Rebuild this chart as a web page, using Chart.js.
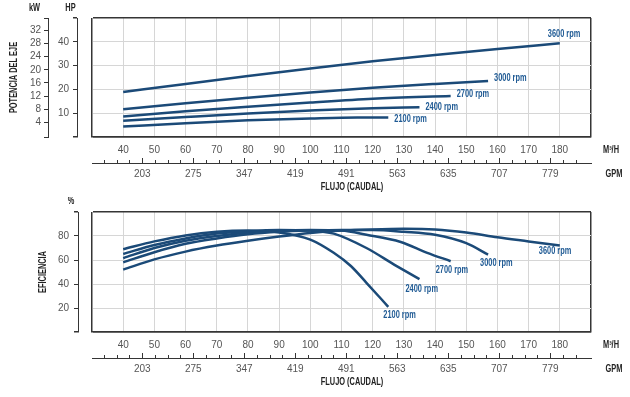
<!DOCTYPE html>
<html lang="es">
<head>
<meta charset="UTF-8">
<title>Curvas de potencia y eficiencia</title>
<script src="https://cdn.jsdelivr.net/npm/chart.js"></script>
<style>
  body { margin: 0; background: #fff; }
  #wrap { position: relative; width: 630px; height: 397px; }
  canvas { position: absolute; left: 0; }
</style>
</head>
<body>
<div id="wrap">
  <canvas id="powerChart" width="630" height="197" style="top:0"></canvas>
  <canvas id="effChart" width="630" height="200" style="top:197px"></canvas>
</div>
<script>
// ---- data ----
const rpmLabels = ['3600 rpm', '3000 rpm', '2700 rpm', '2400 rpm', '2100 rpm'];
const flowTicks = [40, 50, 60, 70, 80, 90, 100, 110, 120, 130, 140, 150, 160, 170, 180];
const gpmTicks = [203, 275, 347, 419, 491, 563, 635, 707, 779];
const kwTicks = [4, 8, 12, 16, 20, 24, 28, 32];
const hpTicks = [10, 20, 30, 40];
const effTicks = [20, 40, 60, 80];

// shaft power (HP) vs flow (m3/h)
const hpFlow3600 = [40, 60, 80, 100, 120, 140, 160, 180];
const hp3600 = [18.9, 22.3, 25.6, 28.8, 31.8, 34.5, 37.0, 39.4];
const hpFlow3000 = [40, 60, 80, 100, 120, 140, 157];
const hp3000 = [11.7, 14.2, 16.5, 18.7, 20.7, 22.3, 23.5];
const hpFlow2700 = [40, 60, 80, 100, 120, 145];
const hp2700 = [8.6, 10.8, 12.7, 14.5, 16.1, 17.2];
const hpFlow2400 = [40, 60, 80, 100, 120, 135];
const hp2400 = [6.8, 8.4, 9.9, 11.1, 12.1, 12.5];
const hpFlow2100 = [40, 60, 80, 100, 115, 125];
const hp2100 = [4.4, 5.8, 7.0, 7.8, 8.2, 8.2];

// efficiency (%) vs flow (m3/h)
const effFlow3600 = [40, 50, 60, 70, 80, 90, 100, 110, 120, 130, 140, 150, 160, 170, 180];
const eff3600 = [52, 60.5, 67, 72, 76, 79.5, 82.5, 84.5, 85.5, 86, 85.5, 83, 79, 75.5, 72];
const effFlow3000 = [40, 50, 60, 70, 80, 90, 100, 110, 120, 130, 140, 150, 157];
const eff3000 = [58, 66.5, 73.5, 78, 81.5, 83.5, 84.5, 85, 85, 83.5, 81, 74, 64.5];
const effFlow2700 = [40, 50, 60, 70, 80, 90, 100, 110, 118, 129, 137.5, 145];
const eff2700 = [61.5, 70, 76, 80, 83, 84.5, 85, 84.5, 81, 75, 66, 59];
const effFlow2400 = [40, 50, 60, 70, 80, 90, 100, 107.5, 118, 127, 135];
const eff2400 = [65, 72.5, 78, 82, 84, 85, 84.5, 82, 70, 56, 44];
const effFlow2100 = [40, 50, 60, 70, 80, 90, 100, 107.5, 113, 118, 125];
const eff2100 = [69, 75.5, 80.5, 83.5, 84.5, 83, 77, 66, 55, 41, 21];

// ---- styling ----
const FONT = "'Liberation Sans', Roboto, sans-serif";
const DARK = '#353535';
const GRID = '#d6d6d6';
const LINE = '#1b4a78';
const LABEL = '#1f5a94';
const SQUEEZE = 0.74; // fake condensed face for hand-drawn texts
const GPM_PER_M3H = 4.403;

Chart.defaults.font.family = FONT;
Chart.defaults.font.size = 10;
Chart.defaults.color = '#555';

const topLabelOffsets = [[-12, -9], [6, -3], [6, -2], [6, 0], [6, 2]];
const effLabelOffsets = [[-21, 6], [-8, 9], [-15, 9], [-14, 10], [-5, 8]];

function pts(xs, ys) {
  return xs.map((x, i) => ({ x: x, y: ys[i] }));
}

function curves(sets) {
  return sets.map((s, i) => ({
    label: rpmLabels[i],
    data: pts(s[0], s[1]),
    borderColor: LINE,
    borderWidth: 2.5,
    pointRadius: 0,
    fill: false,
    cubicInterpolationMode: 'monotone',
    xAxisID: 'x',
    yAxisID: 'y'
  }));
}

function setTicks(values) {
  return s => { s.ticks = values.map(v => ({ value: v })); };
}

function edgeColor(lo, hi) {
  return c => (c.tick && (c.tick.value === lo || c.tick.value === hi)) ? DARK : GRID;
}
function edgeWidth(lo, hi) {
  return c => (c.tick && (c.tick.value === lo || c.tick.value === hi)) ? 1.5 : 1;
}

// condensed bold text, optionally rotated to read upwards
function squeezed(ctx, text, x, y, align, vertical) {
  ctx.save();
  ctx.translate(x, y);
  if (vertical) ctx.rotate(-Math.PI / 2);
  ctx.scale(SQUEEZE, 1);
  ctx.textAlign = align;
  ctx.textBaseline = 'middle';
  ctx.fillText(text, 0, 0);
  ctx.restore();
}

function flowScales() {
  return {
    x: {
      type: 'linear', position: 'bottom', weight: 0, min: 30, max: 190,
      afterBuildTicks: setTicks([30, ...flowTicks, 190]),
      ticks: { padding: 7.5, autoSkip: false, maxRotation: 0,
        callback: v => flowTicks.includes(v) ? String(v) : '' },
      grid: { drawTicks: false, color: edgeColor(30, 190), lineWidth: edgeWidth(30, 190) },
      border: { display: true, color: DARK, width: 1.5 },
      afterFit: s => { s.height = 26; }
    },
    gpm: {
      type: 'linear', axis: 'x', position: 'bottom', weight: 1,
      min: 30 * GPM_PER_M3H, max: 190 * GPM_PER_M3H,
      afterBuildTicks: setTicks(gpmTicks),
      ticks: { padding: 5, autoSkip: false, maxRotation: 0, callback: v => String(v) },
      grid: { display: false, drawTicks: false },
      border: { display: true, color: DARK, width: 1 },
      afterFit: s => { s.height = 32; }
    }
  };
}

const padScale = {
  type: 'linear', axis: 'y', position: 'left', weight: 0,
  ticks: { display: false }, grid: { display: false, drawTicks: false }, border: { display: false }
};

// rpm labels at the end of each curve
function rpmLabelPlugin(offsets) {
  return {
    id: 'rpmLabels',
    afterDatasetsDraw(chart) {
      const ctx = chart.ctx;
      ctx.save();
      ctx.font = 'bold 10px ' + FONT;
      ctx.fillStyle = LABEL;
      chart.data.datasets.forEach((ds, i) => {
        const pts = chart.getDatasetMeta(i).data;
        const end = pts[pts.length - 1];
        squeezed(ctx, ds.label, end.x + offsets[i][0], end.y + offsets[i][1], 'left', false);
      });
      ctx.restore();
    }
  };
}

// GPM tick marks (pointing up), unit labels and axis captions
function flowAxisPlugin(yTitle, extraTexts) {
  return {
    id: 'flowAxis',
    afterDraw(chart) {
      const ctx = chart.ctx;
      const g = chart.scales.gpm;
      const area = chart.chartArea;
      ctx.save();
      ctx.strokeStyle = DARK;
      ctx.lineWidth = 1;
      for (let v = gpmTicks[0] - 54; v <= gpmTicks[gpmTicks.length - 1] + 36; v += 18) {
        const px = Math.round(g.getPixelForValue(v)) + 0.5;
        const len = gpmTicks.includes(v) ? 5 : 3;
        ctx.beginPath();
        ctx.moveTo(px, g.top);
        ctx.lineTo(px, g.top - len);
        ctx.stroke();
      }
      ctx.fillStyle = '#222';
      ctx.font = 'bold 10px ' + FONT;
      squeezed(ctx, 'M\u00B3/H', 611, area.bottom + 13.5, 'center', false);
      squeezed(ctx, 'GPM', 614, g.top + 11, 'center', false);
      squeezed(ctx, 'FLUJO (CAUDAL)', 352, area.bottom + 50, 'center', false);
      squeezed(ctx, yTitle[0], yTitle[1], (area.top + area.bottom) / 2, 'center', true);
      extraTexts.forEach(t => squeezed(ctx, t[0], t[1], t[2], 'center', false));
      ctx.restore();
    }
  };
}

// ---- top chart: shaft power ----
const powerScales = Object.assign(flowScales(), {
  kw: {
    type: 'linear', axis: 'y', position: 'left', weight: 2, min: -0.4, max: 35.7,
    afterBuildTicks: setTicks([-0.4, ...kwTicks, 35.7]),
    ticks: { padding: 3, autoSkip: false, callback: v => kwTicks.includes(v) ? String(v) : '' },
    grid: { drawOnChartArea: false, tickLength: 4, tickColor: DARK },
    border: { display: true, color: DARK, width: 1 },
    afterFit: s => { s.width = 48; }
  },
  y: {
    type: 'linear', position: 'left', weight: 1, min: 0, max: 50,
    afterBuildTicks: setTicks([0, ...hpTicks, 50]),
    ticks: { padding: 4, autoSkip: false, callback: v => hpTicks.includes(v) ? String(v) : '' },
    grid: { color: edgeColor(0, 50), lineWidth: edgeWidth(0, 50), tickLength: 4, tickColor: DARK },
    border: { display: true, color: DARK, width: 1 },
    afterFit: s => { s.width = 29; }
  },
  pad: Object.assign({}, padScale, { afterFit: s => { s.width = 15; } })
});

new Chart(document.getElementById('powerChart'), {
  type: 'line',
  data: {
    datasets: curves([
      [hpFlow3600, hp3600], [hpFlow3000, hp3000], [hpFlow2700, hp2700],
      [hpFlow2400, hp2400], [hpFlow2100, hp2100]
    ])
  },
  options: {
    responsive: false,
    animation: false,
    layout: { padding: { top: 18, right: 39, bottom: 2, left: 0 } },
    plugins: { legend: { display: false }, tooltip: { enabled: false } },
    scales: powerScales
  },
  plugins: [rpmLabelPlugin(topLabelOffsets),
    flowAxisPlugin(['POTENCIA DEL EJE', 14], [['kW', 34.5, 8.5], ['HP', 70.5, 8.5]])]
});

// ---- bottom chart: efficiency ----
const effScales = Object.assign(flowScales(), {
  y: {
    type: 'linear', position: 'left', weight: 1, min: 0, max: 100,
    afterBuildTicks: setTicks([0, ...effTicks, 100]),
    ticks: { padding: 5, autoSkip: false, callback: v => effTicks.includes(v) ? String(v) : '' },
    grid: { color: edgeColor(0, 100), lineWidth: edgeWidth(0, 100), tickLength: 4, tickColor: DARK },
    border: { display: true, color: DARK, width: 1 },
    afterFit: s => { s.width = 78; }
  },
  pad: Object.assign({}, padScale, { afterFit: s => { s.width = 14; } })
});

new Chart(document.getElementById('effChart'), {
  type: 'line',
  data: {
    datasets: curves([
      [effFlow3600, eff3600], [effFlow3000, eff3000], [effFlow2700, eff2700],
      [effFlow2400, eff2400], [effFlow2100, eff2100]
    ])
  },
  options: {
    responsive: false,
    animation: false,
    layout: { padding: { top: 15, right: 39, bottom: 7, left: 0 } },
    plugins: { legend: { display: false }, tooltip: { enabled: false } },
    scales: effScales
  },
  plugins: [rpmLabelPlugin(effLabelOffsets),
    flowAxisPlugin(['EFICIENCIA', 43], [['%', 71, 4.5]])]
});
</script>
</body>
</html>
